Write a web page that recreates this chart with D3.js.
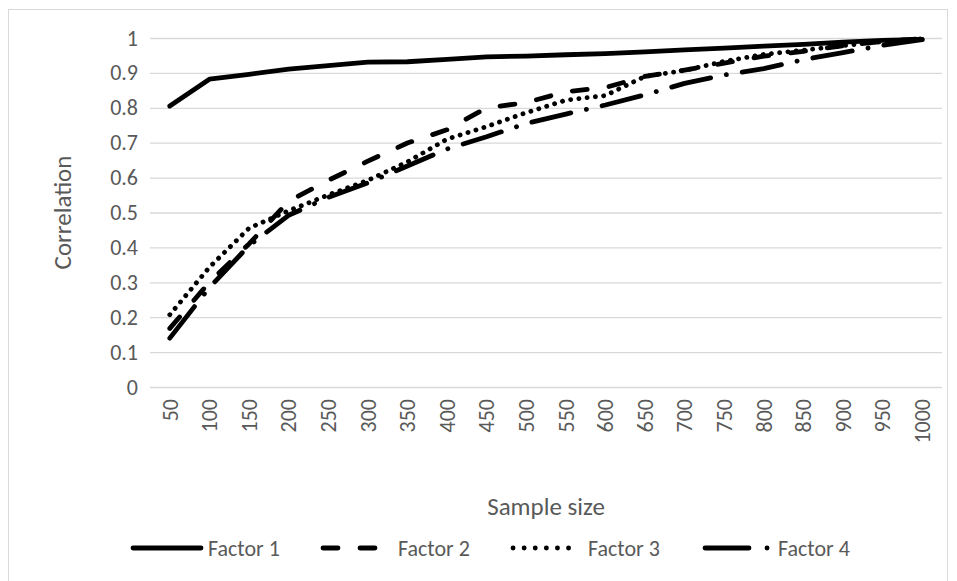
<!DOCTYPE html>
<html><head><meta charset="utf-8">
<script src="https://cdn.jsdelivr.net/npm/d3@7"></script>
<style>body{margin:0;background:#fff}svg text{font-family:Carlito,Lato,"Open Sans",sans-serif;fill:#595959}</style>
</head><body><svg id="c" width="957" height="581"></svg>
<script>
const sampleSizes = [50,100,150,200,250,300,350,400,450,500,550,600,650,700,750,800,850,900,950,1000];
const factor1 = [0.805,0.882,0.896,0.911,0.921,0.931,0.932,0.939,0.946,0.948,0.952,0.955,0.960,0.966,0.971,0.977,0.982,0.988,0.993,0.996];
const factor2 = [0.168,0.300,0.410,0.532,0.592,0.647,0.699,0.737,0.800,0.815,0.846,0.858,0.890,0.908,0.928,0.948,0.962,0.978,0.990,0.998];
const factor3 = [0.207,0.343,0.455,0.505,0.550,0.592,0.645,0.710,0.746,0.786,0.822,0.835,0.890,0.907,0.933,0.953,0.965,0.978,0.990,0.998];
const factor4 = [0.140,0.285,0.405,0.492,0.543,0.585,0.633,0.682,0.717,0.755,0.782,0.808,0.837,0.870,0.894,0.912,0.938,0.958,0.979,0.995];
const yTicks = [0,0.1,0.2,0.3,0.4,0.5,0.6,0.7,0.8,0.9,1];
const seriesNames = ["Factor 1","Factor 2","Factor 3","Factor 4"];

const series = [
  {name: seriesNames[0], values: factor1, dash: null, legDash: null, legX1: 2, legX2: 70},
  {name: seriesNames[1], values: factor2, dash: "15,22", legDash: "15,22", legX1: 2, legX2: 70},
  {name: seriesNames[2], values: factor3, dash: "0.1,8.2", legDash: "0.1,11", legX1: 2, legX2: 60},
  {name: seriesNames[3], values: factor4, dash: "40,16,0.1,16", legDash: "44,18,0.1,100", legX1: 4, legX2: 70}
];

const svg = d3.select("#c");
const m = {left:150, right:942, top:38, bottom:387};

svg.append("rect").attr("x",8.5).attr("y",9.5).attr("width",939).attr("height",580)
  .attr("fill","#fff").attr("stroke","#d9d9d9").attr("stroke-width",1);

const x = d3.scaleBand().domain(sampleSizes).range([m.left, m.right]);
const y = d3.scaleLinear().domain([0,1]).range([m.bottom, m.top]);

const yAxis = d3.axisLeft(y).tickValues(yTicks).tickSize(-(m.right-m.left)).tickPadding(12)
  .tickFormat(d => d3.format("~g")(d));
const gy = svg.append("g").attr("transform",`translate(${m.left},0)`).call(yAxis);
gy.select(".domain").remove();
gy.selectAll(".tick line").attr("stroke","#d9d9d9").attr("stroke-width",1.3);
gy.selectAll(".tick text").attr("font-size",22).attr("fill","#595959");

const xAxis = d3.axisBottom(x).tickSize(0).tickPadding(0);
const gx = svg.append("g").attr("transform",`translate(0,${m.bottom})`).call(xAxis);
gx.select(".domain").remove();
gx.selectAll(".tick text").attr("font-size",22).attr("fill","#595959")
  .attr("text-anchor","end").attr("dy","0.35em")
  .attr("transform","translate(0,12) rotate(-90)");

const line = d3.line().x((d,i)=>x(sampleSizes[i]) + x.bandwidth()/2).y(d=>y(d));

series.forEach(s=>{
  const p = svg.append("path").datum(s.values).attr("d",line)
    .attr("fill","none").attr("stroke","#000").attr("stroke-width",4.8)
    .attr("stroke-linecap","round").attr("stroke-linejoin","round");
  if (s.dash) p.attr("stroke-dasharray", s.dash);
});

svg.append("text").attr("transform",`translate(62,${(m.top+m.bottom)/2}) rotate(-90)`)
  .attr("text-anchor","middle").attr("dy","0.35em").attr("font-size",25).text("Correlation");
svg.append("text").attr("x",(m.left+m.right)/2).attr("y",506).attr("text-anchor","middle")
  .attr("dy","0.35em").attr("font-size",25).text("Sample size");

const legendX = [131, 321, 511, 701];
const leg = svg.append("g");
series.forEach((s,i)=>{
  const g = leg.append("g").attr("transform",`translate(${legendX[i]},548)`);
  const l = g.append("line").attr("x1",s.legX1).attr("x2",s.legX2).attr("y1",0).attr("y2",0)
    .attr("stroke","#000").attr("stroke-width",4.8).attr("stroke-linecap","round");
  if (s.legDash) l.attr("stroke-dasharray", s.legDash);
  g.append("text").attr("x",77).attr("dy","0.35em").attr("font-size",22).text(s.name);
});
</script></body></html>
